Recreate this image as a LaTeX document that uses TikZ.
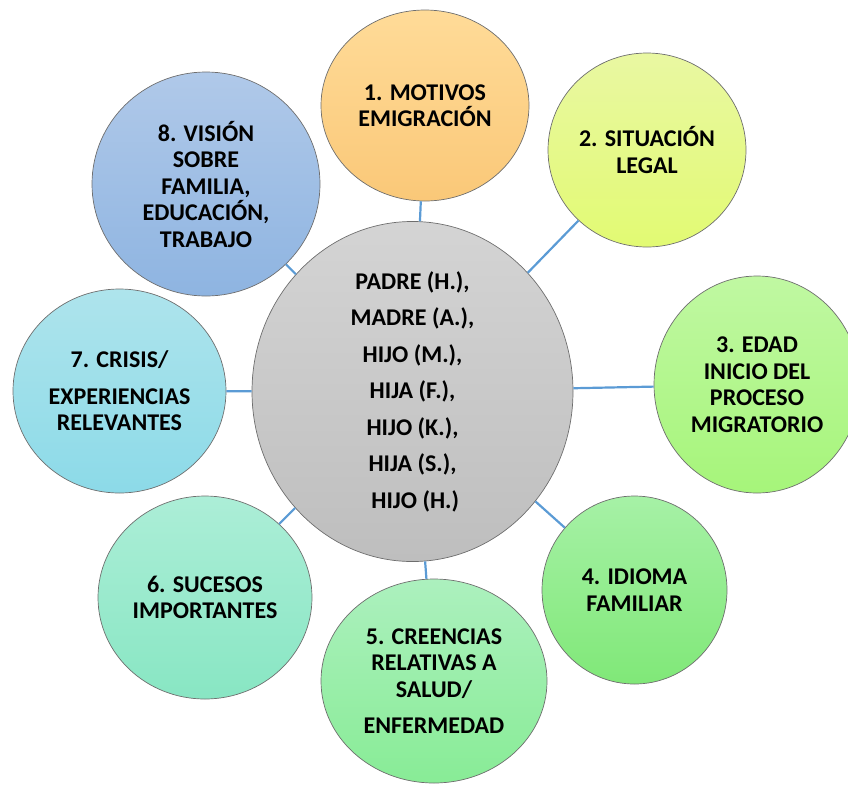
\documentclass[tikz,border=0pt]{standalone}
\usepackage{fontspec}
\setmainfont{Carlito}
\usetikzlibrary{shapes.geometric}
\definecolor{edgegray}{RGB}{110, 110, 110}
\definecolor{linkblue}{RGB}{91, 155, 213}
\definecolor{hubtop}{RGB}{212, 212, 212}
\definecolor{hubbot}{RGB}{190, 190, 190}
\definecolor{motivtop}{RGB}{255, 219, 152}
\definecolor{motivbot}{RGB}{250, 200, 120}
\definecolor{legaltop}{RGB}{233, 248, 162}
\definecolor{legalbot}{RGB}{226, 250, 115}
\definecolor{edadtop}{RGB}{192, 248, 162}
\definecolor{edadbot}{RGB}{166, 245, 122}
\definecolor{idiomtop}{RGB}{166, 241, 166}
\definecolor{idiombot}{RGB}{128, 232, 120}
\definecolor{creentop}{RGB}{172, 240, 190}
\definecolor{creenbot}{RGB}{136, 236, 150}
\definecolor{sucestop}{RGB}{172, 238, 215}
\definecolor{sucesbot}{RGB}{136, 230, 195}
\definecolor{crisitop}{RGB}{174, 228, 236}
\definecolor{crisibot}{RGB}{140, 218, 232}
\definecolor{visiotop}{RGB}{176, 201, 233}
\definecolor{visiobot}{RGB}{142, 180, 225}

\begin{document}
\begin{tikzpicture}[x=1pt, y=-1pt,
    bubble/.style={ellipse, draw=edgegray, line width=0.7pt, inner sep=0pt, align=center, font=\fontsize{24}{26.5}\selectfont\bfseries},
    link/.style={draw=linkblue, line width=2.2pt}
]
    \clip (0,0) rectangle (848,785);
    \useasboundingbox (0,0) rectangle (848,785);

    % Central node
    \node[bubble, top color=hubtop, bottom color=hubbot, minimum width=321pt, minimum height=303pt] (hub) at (412.5,391.5)
        {PADRE (H.),\\[10pt]MADRE (A.),\\[10pt]HIJO (M.),\\[10pt]HIJA (F.),\\[10pt]HIJO (K.),\\[10pt]HIJA (S.),\\[10pt]\ HIJO (H.)};

    % Topics
    \node[bubble, top color=motivtop, bottom color=motivbot, minimum width=208pt, minimum height=191pt] (motivos) at (425,105.5)
        {1. MOTIVOS\\EMIGRACIÓN};
    \node[bubble, top color=legaltop, bottom color=legalbot, minimum width=198pt, minimum height=194pt] (legal) at (647,150)
        {2. SITUACIÓN\\LEGAL};
    \node[bubble, top color=edadtop, bottom color=edadbot, minimum width=206pt, minimum height=217pt] (edad) at (757,384.5)
        {3. EDAD\\INICIO DEL\\PROCESO\\MIGRATORIO};
    \node[bubble, top color=idiomtop, bottom color=idiombot, minimum width=185pt, minimum height=188pt] (idioma) at (634.5,590)
        {4. IDIOMA\\FAMILIAR};
    \node[bubble, top color=creentop, bottom color=creenbot, minimum width=226pt, minimum height=204pt] (creencias) at (434,681)
        {5. CREENCIAS\\RELATIVAS A\\SALUD/\\[10pt]ENFERMEDAD};
    \node[bubble, top color=sucestop, bottom color=sucesbot, minimum width=214pt, minimum height=203pt] (sucesos) at (205,597.5)
        {6. SUCESOS\\IMPORTANTES};
    \node[bubble, top color=crisitop, bottom color=crisibot, minimum width=213pt, minimum height=204pt] (crisis) at (119.5,391)
        {7. CRISIS/\\[10pt]EXPERIENCIAS\\RELEVANTES};
    \node[bubble, top color=visiotop, bottom color=visiobot, minimum width=228pt, minimum height=224pt] (vision) at (206,184)
        {8. VISIÓN\\SOBRE\\FAMILIA,\\EDUCACIÓN,\\TRABAJO};

    % Links
    \foreach \t in {motivos, legal, edad, idioma, creencias, sucesos, crisis, vision}
        \draw[link] (hub) -- (\t);

\end{tikzpicture}
\end{document}
